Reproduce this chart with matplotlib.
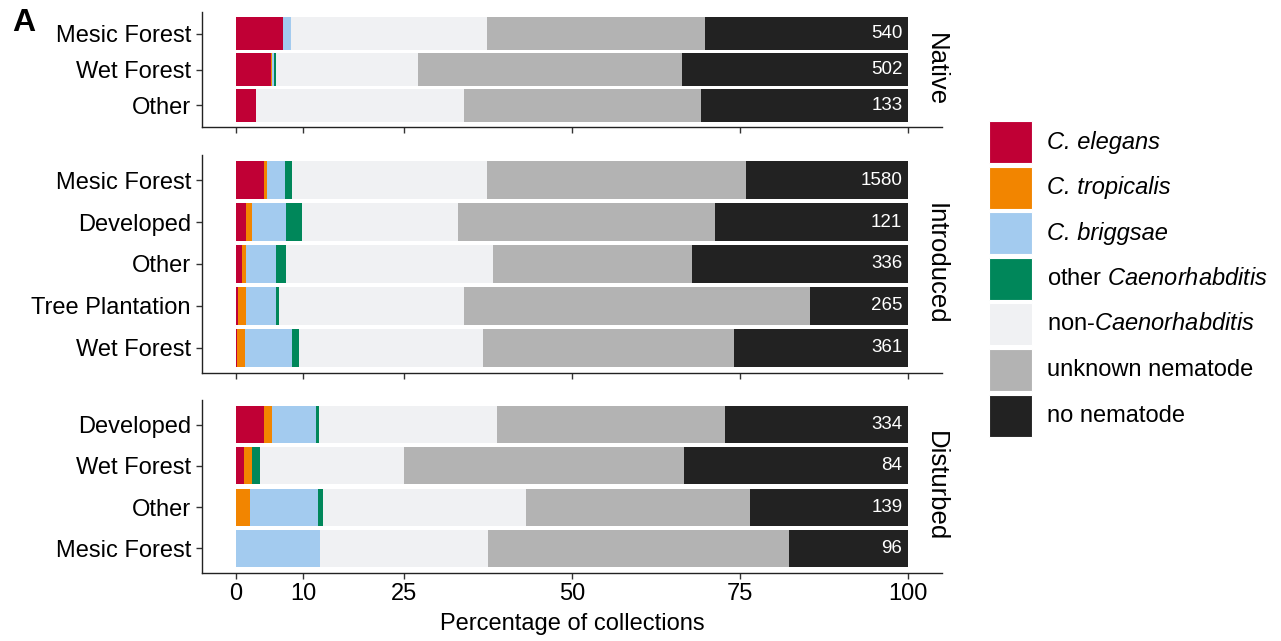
import matplotlib
matplotlib.use("Agg")
import matplotlib.pyplot as plt
from matplotlib.patches import Rectangle

plt.rcParams['font.family'] = ['Liberation Sans', 'DejaVu Sans']
plt.rcParams['mathtext.fontset'] = 'custom'
plt.rcParams['mathtext.rm'] = 'Liberation Sans'
plt.rcParams['mathtext.it'] = 'Liberation Sans:italic'

# categories, top to bottom in each panel
panels = ['Native', 'Introduced', 'Disturbed']
native_cats = ['Mesic Forest', 'Wet Forest', 'Other']
introduced_cats = ['Mesic Forest', 'Developed', 'Other', 'Tree Plantation', 'Wet Forest']
disturbed_cats = ['Developed', 'Wet Forest', 'Other', 'Mesic Forest']

# percentages of collections per group (same order as the categories)
native_elegans = [7.1, 5.2, 3.0]
native_tropicalis = [0.0, 0.25, 0.0]
native_briggsae = [1.1, 0.3, 0.0]
native_other_caeno = [0.0, 0.3, 0.0]
native_non_caeno = [29.1, 21.0, 30.9]
native_unknown = [32.4, 39.3, 35.3]
native_none = [30.3, 33.65, 30.8]
native_n = [540, 502, 133]

introduced_elegans = [4.2, 1.6, 0.9, 0.4, 0.25]
introduced_tropicalis = [0.5, 0.9, 0.6, 1.1, 1.1]
introduced_briggsae = [2.6, 5.0, 4.5, 4.5, 7.0]
introduced_other_caeno = [1.1, 2.4, 1.5, 0.45, 1.1]
introduced_non_caeno = [29.0, 23.2, 30.7, 27.55, 27.25]
introduced_unknown = [38.5, 38.1, 29.6, 51.4, 37.4]
introduced_none = [24.1, 28.8, 32.2, 14.6, 25.9]
introduced_n = [1580, 121, 336, 265, 361]

disturbed_elegans = [4.2, 1.2, 0.0, 0.0]
disturbed_tropicalis = [1.2, 1.2, 2.2, 0.0]
disturbed_briggsae = [6.6, 0.0, 10.1, 12.5]
disturbed_other_caeno = [0.35, 1.2, 0.7, 0.0]
disturbed_non_caeno = [26.55, 21.4, 30.2, 25.0]
disturbed_unknown = [33.9, 41.7, 33.2, 44.8]
disturbed_none = [27.2, 33.3, 23.6, 17.7]
disturbed_n = [334, 84, 139, 96]

legend_labels = ['C. elegans', 'C. tropicalis', 'C. briggsae',
                 r'other $\it{Caenorhabditis}$', r'non-$\it{Caenorhabditis}$',
                 'unknown nematode', 'no nematode']
legend_italic = [True, True, True, False, False, False, False]
colors = ['#C00035', '#F28500', '#A3CBEF', '#00875A', '#F0F1F3', '#B3B3B3', '#222222']

panel_data = [
    (native_cats, [native_elegans, native_tropicalis, native_briggsae, native_other_caeno,
                   native_non_caeno, native_unknown, native_none], native_n),
    (introduced_cats, [introduced_elegans, introduced_tropicalis, introduced_briggsae,
                       introduced_other_caeno, introduced_non_caeno, introduced_unknown,
                       introduced_none], introduced_n),
    (disturbed_cats, [disturbed_elegans, disturbed_tropicalis, disturbed_briggsae,
                      disturbed_other_caeno, disturbed_non_caeno, disturbed_unknown,
                      disturbed_none], disturbed_n),
]

W, H = 1281, 641
fig = plt.figure(figsize=(W / 100, H / 100), dpi=100)

# panel extents in pixels (top, bottom)
panel_px = [(12, 127), (155, 373), (400, 573)]
left_px, right_px = 202, 942
fs = 17

for i, (cats, series, counts) in enumerate(panel_data):
    top, bot = panel_px[i]
    ax = fig.add_axes([left_px / W, 1 - bot / H, (right_px - left_px) / W, (bot - top) / H])
    n = len(cats)
    ypos = [n - 1 - k for k in range(n)]
    lefts = [0.0] * n
    for vals, c in zip(series, colors):
        ax.barh(ypos, vals, left=lefts, height=0.9, color=c, linewidth=0)
        lefts = [l + v for l, v in zip(lefts, vals)]
    for y, cnt in zip(ypos, counts):
        ax.text(99.1, y, str(cnt), color='white', ha='right', va='center', fontsize=13.5)
    ax.set_xlim(-5, 105)
    ax.set_ylim(-0.6, n - 0.4)
    ax.set_yticks(ypos)
    ax.set_yticklabels(cats, fontsize=fs)
    ax.set_xticks([0, 10, 25, 50, 75, 100])
    ax.spines['top'].set_visible(False)
    ax.spines['right'].set_visible(False)
    for s in ['left', 'bottom']:
        ax.spines[s].set_color('#222222')
        ax.spines[s].set_linewidth(1.0)
    ax.tick_params(axis='both', length=4, width=1.0, color='#333333', labelcolor='black', pad=4)
    if i < 2:
        ax.tick_params(axis='x', labelbottom=False)
    else:
        ax.tick_params(axis='x', labelsize=fs, pad=3)
        ax.set_xlabel('Percentage of collections', fontsize=fs, labelpad=6)
    fig.text(936 / W, 1 - (top + bot) / 2 / H, panels[i], rotation=270,
             ha='center', va='center', fontsize=18.5)

# legend
key_w, key_h, pitch = 43, 42, 45.6
for k, (lab, c, it) in enumerate(zip(legend_labels, colors, legend_italic)):
    y0 = 121 + k * pitch
    fig.patches.append(Rectangle((989 / W, 1 - (y0 + key_h) / H), key_w / W, key_h / H,
                                 transform=fig.transFigure, facecolor=c, edgecolor='white',
                                 linewidth=0.8))
    fig.text(1047 / W, 1 - (y0 + key_h / 2) / H, lab, ha='left', va='center', fontsize=fs,
             fontstyle='italic' if it else 'normal')

fig.text(12 / W, 1 - 23 / H, 'A', fontsize=23, fontweight='bold', ha='left', va='center')

fig.savefig('out.png', dpi=100)
